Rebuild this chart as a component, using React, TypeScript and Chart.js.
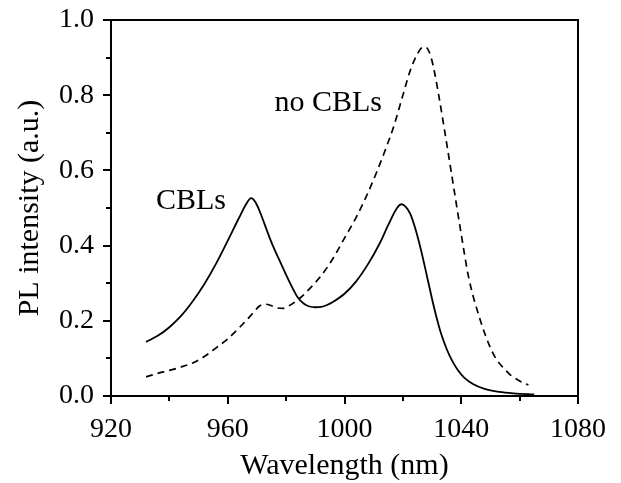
import { useEffect, useRef } from 'react';
import { Chart, registerables } from 'chart.js';

Chart.register(...registerables);

// ---- data ----
const cblsWavelength = [932, 936, 940, 944, 948, 952, 956, 960, 964, 966, 968, 969, 970, 971, 972, 973, 974.5, 976, 978, 980, 982, 984, 986, 988, 990, 992, 994, 996, 1000, 1004, 1008, 1012, 1015, 1018, 1019.5, 1021, 1022.5, 1024, 1025.5, 1027, 1028.5, 1030, 1031.5, 1033, 1035, 1037, 1039, 1041, 1044, 1048, 1053, 1058, 1065];
const cblsIntensity = [0.144, 0.160, 0.183, 0.213, 0.252, 0.298, 0.352, 0.413, 0.476, 0.506, 0.526, 0.521, 0.508, 0.490, 0.470, 0.449, 0.418, 0.390, 0.356, 0.322, 0.290, 0.262, 0.246, 0.238, 0.236, 0.237, 0.242, 0.250, 0.272, 0.305, 0.350, 0.405, 0.455, 0.500, 0.510, 0.503, 0.485, 0.452, 0.410, 0.362, 0.310, 0.258, 0.210, 0.168, 0.125, 0.092, 0.067, 0.049, 0.032, 0.019, 0.011, 0.007, 0.004];

const noCblsWavelength = [932, 936, 940, 944, 948, 952, 956, 960, 964, 968, 971, 973, 975, 977, 979, 981, 983, 985, 988, 992, 996, 1000, 1004, 1008, 1011, 1014, 1017, 1020, 1022.5, 1025, 1027, 1028, 1029.5, 1031, 1032.5, 1034, 1035.5, 1037, 1040, 1042.5, 1046.5, 1050, 1052, 1055, 1057, 1060, 1063];
const noCblsIntensity = [0.051, 0.060, 0.068, 0.077, 0.088, 0.105, 0.128, 0.152, 0.182, 0.215, 0.240, 0.244, 0.240, 0.234, 0.233, 0.240, 0.250, 0.262, 0.285, 0.320, 0.365, 0.420, 0.475, 0.540, 0.595, 0.655, 0.720, 0.800, 0.865, 0.910, 0.928, 0.927, 0.905, 0.855, 0.790, 0.720, 0.648, 0.575, 0.430, 0.317, 0.202, 0.128, 0.098, 0.070, 0.055, 0.040, 0.029];

const annotationTexts = ['CBLs', 'no CBLs'];
const annotationWavelength = [947.4, 994.4];
const annotationIntensity = [0.517, 0.78];

const xMin = 920, xMax = 1080, xMajor = 40, xMinor = 20;
const yMin = 0, yMax = 1, yMajor = 0.2, yMinor = 0.1;

const FONT = '"Liberation Serif", "Times New Roman", Times, serif';

function toPoints(xs: number[], ys: number[]) {
  return xs.map((x, i) => ({ x, y: ys[i] }));
}

const framePlugin = {
  id: 'frame',
  afterDraw(chart: any) {
    const { ctx, chartArea } = chart;
    const xs = chart.scales.x;
    const ys = chart.scales.y;
    ctx.save();
    ctx.strokeStyle = '#000';
    ctx.lineWidth = 2;
    ctx.strokeRect(chartArea.left, chartArea.top, chartArea.right - chartArea.left, chartArea.bottom - chartArea.top);
    // x ticks
    for (let v = xMin, i = 0; v <= xMax + 1e-9; v += xMinor, i++) {
      const px = Math.round(xs.getPixelForValue(v));
      const major = i % (xMajor / xMinor) === 0;
      ctx.beginPath();
      ctx.moveTo(px, chartArea.bottom);
      ctx.lineTo(px, chartArea.bottom + (major ? 8 : 5));
      ctx.stroke();
    }
    // y ticks
    for (let i = 0; yMin + i * yMinor <= yMax + 1e-9; i++) {
      const v = yMin + i * yMinor;
      const py = Math.round(ys.getPixelForValue(v));
      const major = i % Math.round(yMajor / yMinor) === 0;
      ctx.beginPath();
      ctx.moveTo(chartArea.left, py);
      ctx.lineTo(chartArea.left - (major ? 8 : 5), py);
      ctx.stroke();
    }
    // annotations
    ctx.fillStyle = '#000';
    ctx.font = `30px ${FONT}`;
    ctx.textAlign = 'center';
    ctx.textBaseline = 'middle';
    annotationTexts.forEach((t, i) => {
      ctx.fillText(t, xs.getPixelForValue(annotationWavelength[i]), ys.getPixelForValue(annotationIntensity[i]));
    });
    ctx.restore();
  },
};

export default function App() {
  const ref = useRef<HTMLCanvasElement | null>(null);
  useEffect(() => {
    if (!ref.current) return;
    const chart = new Chart(ref.current, {
      type: 'line',
      data: {
        datasets: [
          {
            label: 'CBLs',
            data: toPoints(cblsWavelength, cblsIntensity),
            borderColor: '#000',
            borderWidth: 1.8,
            pointRadius: 0,
            cubicInterpolationMode: 'monotone',
            fill: false,
          },
          {
            label: 'no CBLs',
            data: toPoints(noCblsWavelength, noCblsIntensity),
            borderColor: '#000',
            borderWidth: 1.7,
            borderDash: [7, 5],
            pointRadius: 0,
            cubicInterpolationMode: 'monotone',
            fill: false,
          },
        ],
      },
      options: {
        responsive: false,
        animation: false,
        devicePixelRatio: 1,
        layout: { padding: { left: 0, top: 20, right: 43, bottom: 0 } },
        plugins: { legend: { display: false }, tooltip: { enabled: false } },
        scales: {
          x: {
            type: 'linear',
            min: xMin,
            max: xMax,
            afterFit: (s: any) => { s.height = 87; s.paddingLeft = 0; s.paddingRight = 0; },
            grid: { display: false, drawTicks: false },
            border: { display: false },
            ticks: {
              stepSize: xMajor,
              autoSkip: false,
              maxRotation: 0,
              padding: 17,
              color: '#000',
              font: { family: FONT, size: 28 },
              callback: (v: any) => String(v),
            },
            title: {
              display: true,
              text: 'Wavelength (nm)',
              color: '#000',
              font: { family: FONT, size: 30, lineHeight: 1.1 },
              padding: { top: 0, bottom: 0 },
            },
          },
          y: {
            type: 'linear',
            min: yMin,
            max: yMax,
            afterFit: (s: any) => { s.width = 111; s.paddingTop = 0; s.paddingBottom = 0; },
            grid: { display: false, drawTicks: false },
            border: { display: false },
            ticks: {
              stepSize: yMajor,
              autoSkip: false,
              padding: 17,
              color: '#000',
              font: { family: FONT, size: 28 },
              callback: (v: any) => Number(v).toFixed(1),
            },
            title: {
              display: true,
              text: 'PL intensity (a.u.)',
              color: '#000',
              font: { family: FONT, size: 30 },
              padding: { top: 12, bottom: 0 },
            },
          },
        },
      } as any,
      plugins: [framePlugin],
    });
    return () => chart.destroy();
  }, []);
  return (
    <div style={{ position: 'absolute', left: 0, top: 0, width: 621, height: 483, background: '#fff' }}>
      <canvas ref={ref} width={621} height={483} style={{ display: 'block' }} />
    </div>
  );
}
